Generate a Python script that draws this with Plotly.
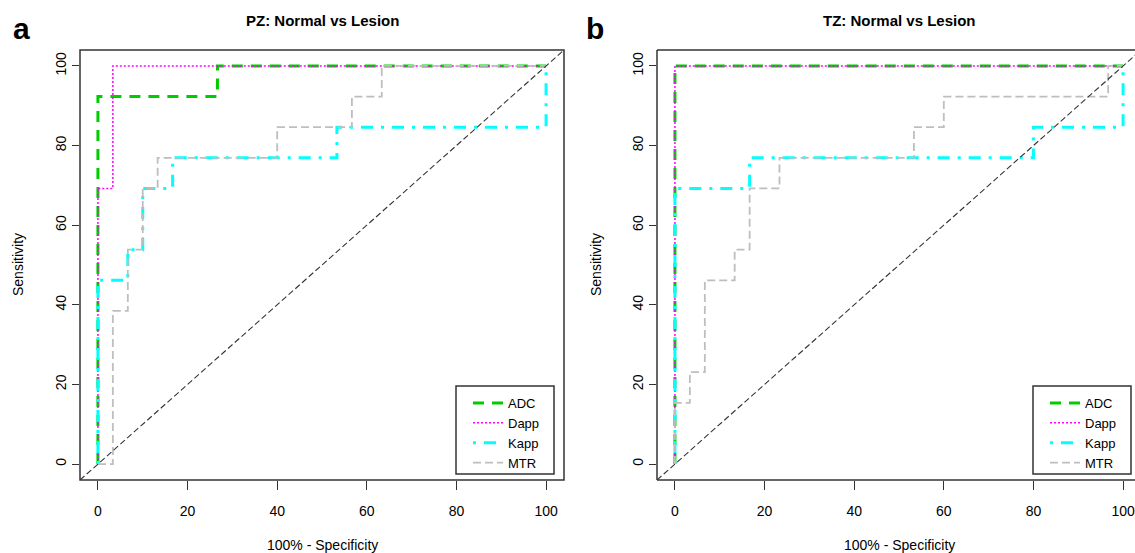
import plotly.graph_objects as go

W, H = 1135, 553

# ---- data: ROC step points (x = 100% - specificity, y = sensitivity) ----
series_names = ["ADC", "Dapp", "Kapp", "MTR"]

pz_adc_x = [0, 0, 26.67, 100]
pz_adc_y = [0, 92.31, 100, 100]
pz_dapp_x = [0, 0, 3.33, 100]
pz_dapp_y = [0, 69.23, 100, 100]
pz_kapp_x = [0, 0, 6.67, 10, 16.67, 53.33, 100]
pz_kapp_y = [0, 46.15, 53.85, 69.23, 76.92, 84.62, 100]
pz_mtr_x = [0, 3.33, 6.67, 10, 13.33, 40, 56.67, 63.33, 100]
pz_mtr_y = [0, 38.46, 53.85, 69.23, 76.92, 84.62, 92.31, 100, 100]

tz_adc_x = [0, 0, 100]
tz_adc_y = [0, 100, 100]
tz_dapp_x = [0, 0, 100]
tz_dapp_y = [0, 100, 100]
tz_kapp_x = [0, 0, 16.67, 80, 100]
tz_kapp_y = [0, 69.23, 76.92, 84.62, 100]
tz_mtr_x = [0, 0, 3.33, 6.67, 13.33, 16.67, 23.33, 53.33, 60, 96.67, 100]
tz_mtr_y = [0, 15.38, 23.08, 46.15, 53.85, 69.23, 76.92, 84.62, 92.31, 100, 100]

diag = [-4, 104]
tick_vals = [0, 20, 40, 60, 80, 100]
titles = ["PZ: Normal vs Lesion", "TZ: Normal vs Lesion"]
panel_letters = ["a", "b"]

# ---- styles ----
styles = {
    "ADC": dict(color="#00CC00", width=3, dash="11px,8px"),
    "Dapp": dict(color="#FF00FF", width=1.5, dash="2px,2px"),
    "Kapp": dict(color="#00FFFF", width=3, dash="3px,8px,12px,8px"),
    "MTR": dict(color="#BEBEBE", width=1.8, dash="8px,4px"),
}
FONT = "Liberation Sans, Arial, sans-serif"

fig = go.Figure()

panels = [
    ("x", "y", "legend", [(pz_adc_x, pz_adc_y), (pz_dapp_x, pz_dapp_y), (pz_kapp_x, pz_kapp_y), (pz_mtr_x, pz_mtr_y)]),
    ("x2", "y2", "legend2", [(tz_adc_x, tz_adc_y), (tz_dapp_x, tz_dapp_y), (tz_kapp_x, tz_kapp_y), (tz_mtr_x, tz_mtr_y)]),
]
for xa, ya, lg, data in panels:
    for name, (xs, ys) in zip(series_names, data):
        fig.add_trace(go.Scatter(x=xs, y=ys, mode="lines", name=name, line=dict(shape="hv", **styles[name]),
                                 xaxis=xa, yaxis=ya, legend=lg, hoverinfo="skip"))
    fig.add_trace(go.Scatter(x=diag, y=diag, mode="lines", line=dict(color="#333333", width=1.1, dash="6px,3px"),
                             xaxis=xa, yaxis=ya, showlegend=False, hoverinfo="skip"))

# pixel geometry
L1, R1 = 80, 564
L2, R2 = 657, 1141
TOP, BOT = 50, 480
ppu = (R1 - L1) / 108.0

def px(v):
    return v / W

def py(v):
    return 1 - v / H

axis_common = dict(showgrid=False, zeroline=False, showline=False, ticks="outside", tickcolor="#333",
                   tickwidth=1, tickfont=dict(family=FONT, size=14, color="black"), tickvals=tick_vals)

fig.update_layout(
    width=W, height=H, margin=dict(l=0, r=0, t=0, b=0),
    paper_bgcolor="white", plot_bgcolor="white",
    xaxis=dict(domain=[px(L1), px(R1)], range=[-4, 104], ticklen=9, ticklabelstandoff=9, anchor="y", **axis_common),
    yaxis=dict(domain=[py(BOT), py(TOP)], range=[-4, 104], ticklen=7, tickangle=-90, anchor="x", **axis_common),
    xaxis2=dict(domain=[px(L2), 1.0], range=[-4, -4 + (W - L2) / ppu], ticklen=9, ticklabelstandoff=9, anchor="y2", **axis_common),
    yaxis2=dict(domain=[py(BOT), py(TOP)], range=[-4, 104], ticklen=7, tickangle=-90, anchor="x2", **axis_common),
    showlegend=True,
)

legend_common = dict(xanchor="left", yanchor="top", borderwidth=0, bgcolor="rgba(0,0,0,0)",
                     font=dict(family=FONT, size=13, color="black"), tracegroupgap=0, itemwidth=30)
fig.update_layout(
    legend=dict(x=px(468), y=py(388), **legend_common),
    legend2=dict(x=px(1045), y=py(388), **legend_common),
)

# legend frames
for lx in [456, 1033]:
    fig.add_shape(type="rect", xref="paper", yref="paper", x0=px(lx), x1=px(lx + 98), y0=py(474), y1=py(386),
                  line=dict(color="#333333", width=1.5), fillcolor="white", layer="above")

# boxes
box = dict(color="#333333", width=1.5)
fig.add_shape(type="rect", xref="x domain", yref="y domain", x0=0, x1=1, y0=0, y1=1, line=box)
for (x0, y0, x1, y1) in [(0, 0, 0, 1), (0, 0, 1, 0), (0, 1, 1, 1)]:
    fig.add_shape(type="line", xref="x2 domain", yref="y2 domain", x0=x0, y0=y0, x1=x1, y1=y1, line=box)

# texts
cx1 = L1 + ppu * 54
cx2 = L2 + ppu * 54
cy = (TOP + BOT) / 2
for cx, t in zip([cx1, cx2], titles):
    fig.add_annotation(text="<b>%s</b>" % t, x=px(cx), y=py(20), xref="paper", yref="paper", showarrow=False,
                       font=dict(family=FONT, size=15, color="black"), xanchor="center", yanchor="middle")
    fig.add_annotation(text="100% - Specificity", x=px(cx), y=py(545), xref="paper", yref="paper", showarrow=False,
                       font=dict(family=FONT, size=14, color="black"), xanchor="center", yanchor="middle")
for xx in [18, 596]:
    fig.add_annotation(text="Sensitivity", x=px(xx), y=py(cy), xref="paper", yref="paper", showarrow=False,
                       textangle=-90, font=dict(family=FONT, size=14, color="black"), xanchor="center", yanchor="middle")
for xx, letter in zip([21, 595], panel_letters):
    fig.add_annotation(text="<b>%s</b>" % letter, x=px(xx), y=py(28), xref="paper", yref="paper", showarrow=False,
                       font=dict(family=FONT, size=30, color="black"), xanchor="center", yanchor="middle")

fig.write_html("out.html", config={"displayModeBar": False},
               post_script="document.body.style.margin='0px';document.body.style.overflow='hidden';")
